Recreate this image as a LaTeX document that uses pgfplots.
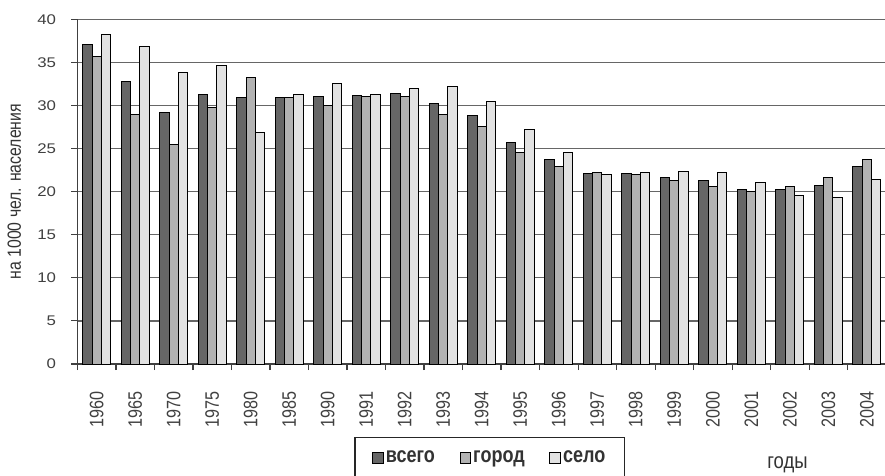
\documentclass[border=0pt]{standalone}
\usepackage{pgfplots}
\pgfplotsset{compat=1.18}
\usepackage{pgfplotstable}
\usepackage{fontspec}
\setmainfont{Liberation Sans}
% the reference is stretched sideways, so the faces are stretched to match
\newfontfamily\widefont[FakeStretch=1.2]{Liberation Sans}
\newfontfamily\rotfont[FakeStretch=0.83]{Liberation Sans}
\newfontfamily\narrowfont[FakeStretch=0.84]{Liberation Sans}
\newfontfamily\legfont[FakeStretch=0.82]{Liberation Sans}
\definecolor{cvsego}{HTML}{666666}
\definecolor{cgorod}{HTML}{B2B2B2}
\definecolor{cselo}{HTML}{E2E2E2}

% birth rate, per 1000 people
\pgfplotstableread{
idx vsego gorod selo
0  37.1 35.7 38.2
1  32.8 29.0 36.8
2  29.2 25.5 33.8
3  31.3 29.8 34.7
4  30.9 33.3 26.9
5  30.9 30.9 31.3
6  31.1 30.0 32.6
7  31.2 31.0 31.3
8  31.4 31.1 32.0
9  30.2 29.0 32.2
10 28.8 27.6 30.5
11 25.7 24.6 27.2
12 23.7 22.9 24.6
13 22.1 22.2 22.0
14 22.1 22.0 22.2
15 21.7 21.3 22.3
16 21.3 20.6 22.2
17 20.3 20.0 21.1
18 20.2 20.6 19.6
19 20.7 21.6 19.3
20 22.9 23.7 21.4
}\births

\begin{document}
\begin{tikzpicture}
\begin{axis}[
    scale only axis,
    width=606.4pt, height=258.5pt,
    at={(0pt,0pt)}, anchor=south west,
    clip mode=individual,
    xmin=-0.5, xmax=20.5,
    ymin=0, ymax=40,
    ytick={0,5,...,40},
    xtick={0,...,20},
    xticklabels={1960,1965,1970,1975,1980,1985,1990,1991,1992,1993,1994,1995,1996,1997,1998,1999,2000,2001,2002,2003,2004},
    minor xtick={-0.5,0.5,...,20.5},
    x tick label style={rotate=90, anchor=east, inner xsep=16pt,
        font=\rotfont\fontsize{14.6}{16}\selectfont, text=black!75},
    y tick label style={font=\widefont\fontsize{10.5}{12}\selectfont, text=black!75},
    yticklabel shift=8pt,
    /pgf/number format/assume math mode=true,
    axis x line*=bottom, axis y line*=left,
    axis line style={black!75, line width=0.8pt},
    major x tick style={draw=none},
    minor x tick style={draw=black!75, line width=0.8pt},
    ytick style={black!75, line width=0.8pt},
    tick align=outside,
    major tick length=4.5pt,
    minor tick length=4.5pt,
    ymajorgrids,
    major grid style={black!60, line width=0.9pt},
    ybar=0pt, bar width=7pt,
    ylabel={на 1000 чел. населения},
    ylabel style={font=\rotfont\fontsize{14.3}{16}\selectfont, text=black!80,
        at={(axis description cs:-0.078,0.5)}, anchor=center},
    legend columns=3,
    legend style={at={(axis description cs:0.51,-0.212)}, anchor=north,
        draw=black!85, line width=0.8pt, inner xsep=13pt, inner ysep=8pt,
        font=\legfont\bfseries\fontsize{16.5}{18}\selectfont, text=black!80,
        nodes={inner xsep=1.5pt},
        /tikz/every even column/.append style={column sep=17pt}},
    legend image code/.code={\draw[#1, line width=0.7pt] (0pt,-4pt) rectangle (8pt,4pt);},
]
\addplot[fill=cvsego, draw=black, line width=0.75pt] table[x=idx, y=vsego] {\births};
\addplot[fill=cgorod, draw=black, line width=0.75pt] table[x=idx, y=gorod] {\births};
\addplot[fill=cselo, draw=black, line width=0.75pt] table[x=idx, y=selo] {\births};
\legend{всего,город,село}
\node[anchor=base, font=\narrowfont\fontsize{16.5}{18}\selectfont, text=black!80] at (axis description cs:0.878,-0.302) {годы};
\end{axis}
\pgfresetboundingbox
\path[use as bounding box] (-58.1pt,-83.25pt) rectangle (605.6pt,273pt);
\end{tikzpicture}
\end{document}
